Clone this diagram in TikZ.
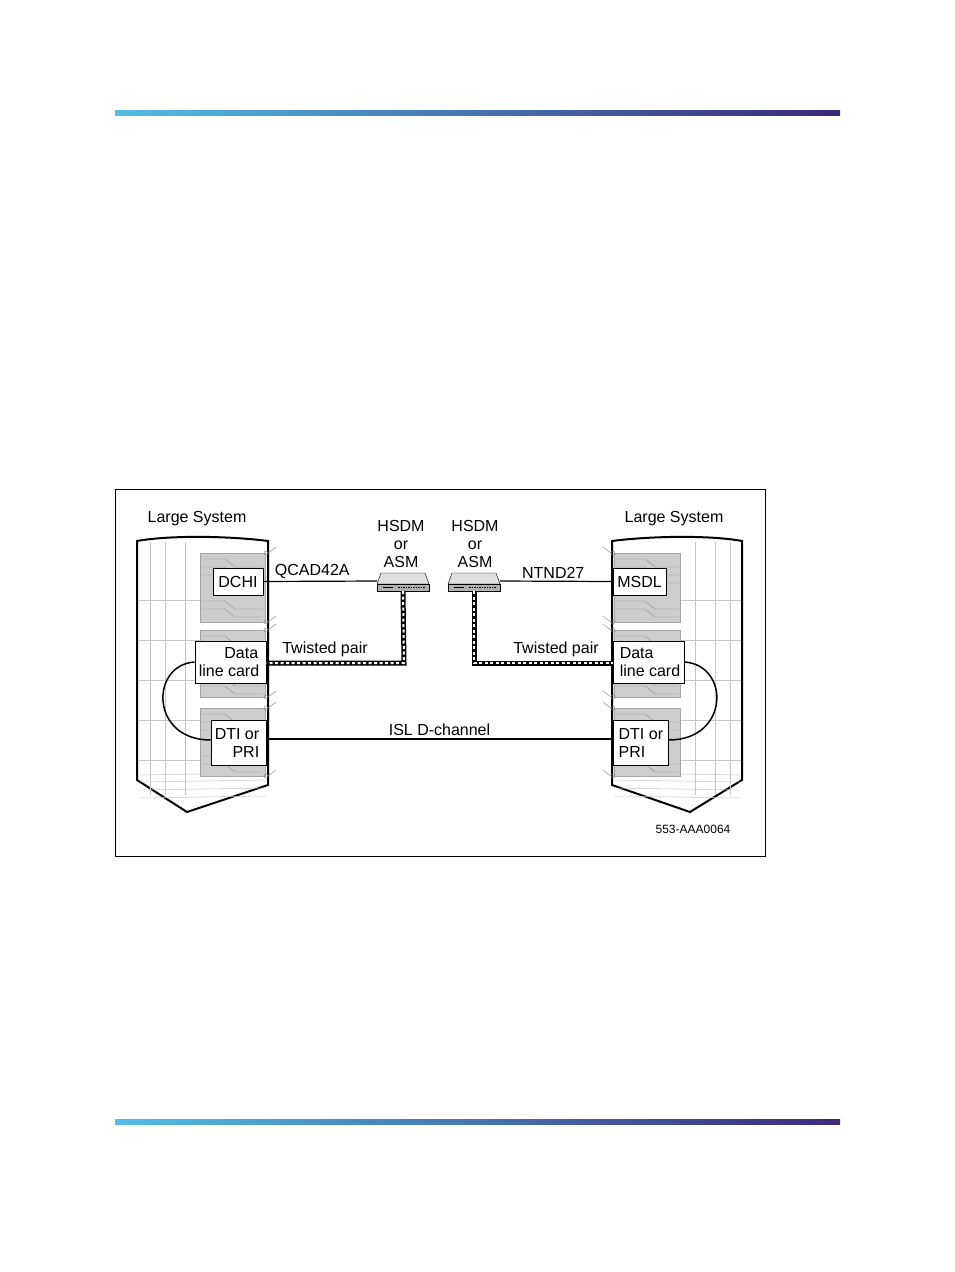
\documentclass[tikz,border=0pt]{standalone}
\usepackage{fontspec}
\setmainfont{Liberation Sans}
\usetikzlibrary{positioning}
\definecolor{barA}{RGB}{80,190,230}
\definecolor{barB}{RGB}{60,40,120}
\definecolor{cardgray}{RGB}{205,205,205}
\tikzset{
  txt/.style={font=\fontsize{16}{18}\selectfont, inner sep=1pt},
  cardbox/.style={draw, fill=white, line width=1pt, font=\fontsize{16}{18}\selectfont, inner sep=0pt},
  board/.style={fill=cardgray, draw=gray!70},
  hull/.style={draw, line width=2pt, fill=white},
  rib/.style={draw=gray!45, line width=0.5pt},
  twisted/.style={line width=5pt},
  twistedin/.style={white, line width=2pt, dash pattern=on 3pt off 2.5pt},
  link/.style={line width=1.2pt},
}
\begin{document}
\begin{tikzpicture}[x=1pt,y=-1pt]
\useasboundingbox (0,0) rectangle (954,1272);
% bars
\shade[left color=barA, right color=barB] (115,110) rectangle (840,115);
\shade[left color=barA, right color=barB] (115,1119) rectangle (840,1124);
\draw[line width=0.8pt] (115,489) rectangle (765,856);

% left cabinet
\draw[hull] (137,541) .. controls (170,535) and (230,536) .. (268,541) -- (268,785) -- (187,812) -- (137,780) -- cycle;
\foreach \x in {150,165,185} \draw[rib] (\x,542) -- (\x,795);
\foreach \y in {600,640,680,720,760} \draw[rib] (138,\y) -- (200,\y);
\foreach \y in {775,782,790,798} \draw[rib] (140,\y) -- (266,\y-2);
% right cabinet
\draw[hull] (612,541) .. controls (650,536) and (710,535) .. (742,541) -- (742,780) -- (690,812) -- (612,785) -- cycle;
\foreach \x in {695,715,730} \draw[rib] (\x,542) -- (\x,795);
\foreach \y in {600,640,680,720,760} \draw[rib] (680,\y) -- (741,\y);
\foreach \y in {775,782,790,798} \draw[rib] (614,\y-2) -- (740,\y);

% boards
\foreach \a/\b in {553/622,630/697,708/776} {
  \draw[board] (200,\a) rectangle (265,\b);
  \draw[board] (614,\a) rectangle (680,\b);
  \foreach \s in {6,14,22,48,56} {
    \draw[gray!90] (202,\a+\s) -- (225,\a+\s) -- (235,\a+\s+8) -- (262,\a+\s+8);
    \draw[gray!90] (616,\a+\s) -- (645,\a+\s) -- (655,\a+\s+8) -- (678,\a+\s+8);
  }
  \foreach \y in {\a,\b} {
    \draw[gray] (266,\y) circle (2pt) (268,\y) -- (276,\y-6);
    \draw[gray] (613,\y) circle (2pt) (611,\y) -- (603,\y-6);
  }
}

% cards
\node[cardbox, minimum width=50pt, minimum height=27pt] (dchi) at (238,581.5) {DCHI};
\node[cardbox, minimum width=71pt, minimum height=42pt, align=right] (dlcL) at (230.5,662) {\hspace*{2pt}Data\hspace*{4pt}\\line card\hspace*{3pt}};
\node[cardbox, minimum width=55pt, minimum height=45pt, align=right] (dtiL) at (238.5,742.5) {DTI or\hspace*{3pt}\\PRI\hspace*{3pt}};
\node[cardbox, minimum width=53pt, minimum height=27pt] (msdl) at (639.5,581.5) {MSDL};
\node[cardbox, minimum width=71pt, minimum height=42pt, align=left] (dlcR) at (648.5,662) {\hspace*{3pt}Data\hspace*{20pt}\\\hspace*{3pt}line card};
\node[cardbox, minimum width=55pt, minimum height=45pt, align=left] (dtiR) at (640.5,742.5) {\hspace*{3pt}DTI or\\\hspace*{3pt}PRI\hspace*{20pt}};

% modems
\foreach \n/\x in {devL/403,devR/474} {
  \draw[fill=gray!25] (\x-22,573) -- (\x+22,573) -- (\x+26,584) -- (\x-26,584) -- cycle;
  \draw[fill=gray!60] (\x-26,584) rectangle (\x+26,591);
  \draw[line width=1pt] (\x-20,587.5) -- (\x-10,587.5);
  \draw[line width=1pt, dash pattern=on 1.5pt off 1pt] (\x-5,587.5) -- (\x+22,587.5);
  \coordinate (\n) at (\x,591);
  \coordinate (\n w) at (\x-26,581);
  \coordinate (\n e) at (\x+26,581);
}
\node[txt, align=center] (hsdmL) at (401,544) {HSDM\\or\\ASM};
\node[txt, align=center] (hsdmR) at (475,544) {HSDM\\or\\ASM};
\node[txt] (lsL) at (197,519) {Large System};
\node[txt] (lsR) at (674,519) {Large System};

% links
\coordinate (islL) at (266,739);
\coordinate (islR) at (613,739);
\draw[link] (dchi.east) -- (devLw) node[txt, midway, above=1pt, xshift=-8pt] {QCAD42A};
\draw[link] (devRe) -- (msdl.west) node[txt, midway, above=1pt, xshift=-3pt] {NTND27};
\draw[link] (islL) -- (islR) node[txt, midway, above=2pt, xshift=0pt] {ISL D-channel};
\coordinate (tpL) at (404,663);
\coordinate (tpR) at (474,663);
\draw[twisted] (devL) -- (tpL) -- (dlcL.east |- tpL);
\draw[twistedin] (devL) -- (tpL) -- (dlcL.east |- tpL);
\draw[twisted] (devR) -- (tpR) -- (dlcR.west |- tpR);
\draw[twistedin] (devR) -- (tpR) -- (dlcR.west |- tpR);
\node[txt] (tpLl) at (325,649) {Twisted pair};
\node[txt] (tpRl) at (556,649) {Twisted pair};
\draw[line width=1.5pt] (dlcL.west) .. controls (150,665) and (150,740) .. (dtiL.west |- 0,740);
\draw[line width=1.5pt] (dlcR.east) .. controls (730,665) and (730,740) .. (dtiR.east |- 0,740);
\node[txt, font=\fontsize{12}{14}\selectfont] (fig) at (693,829) {553-AAA0064};
\end{tikzpicture}
\end{document}
